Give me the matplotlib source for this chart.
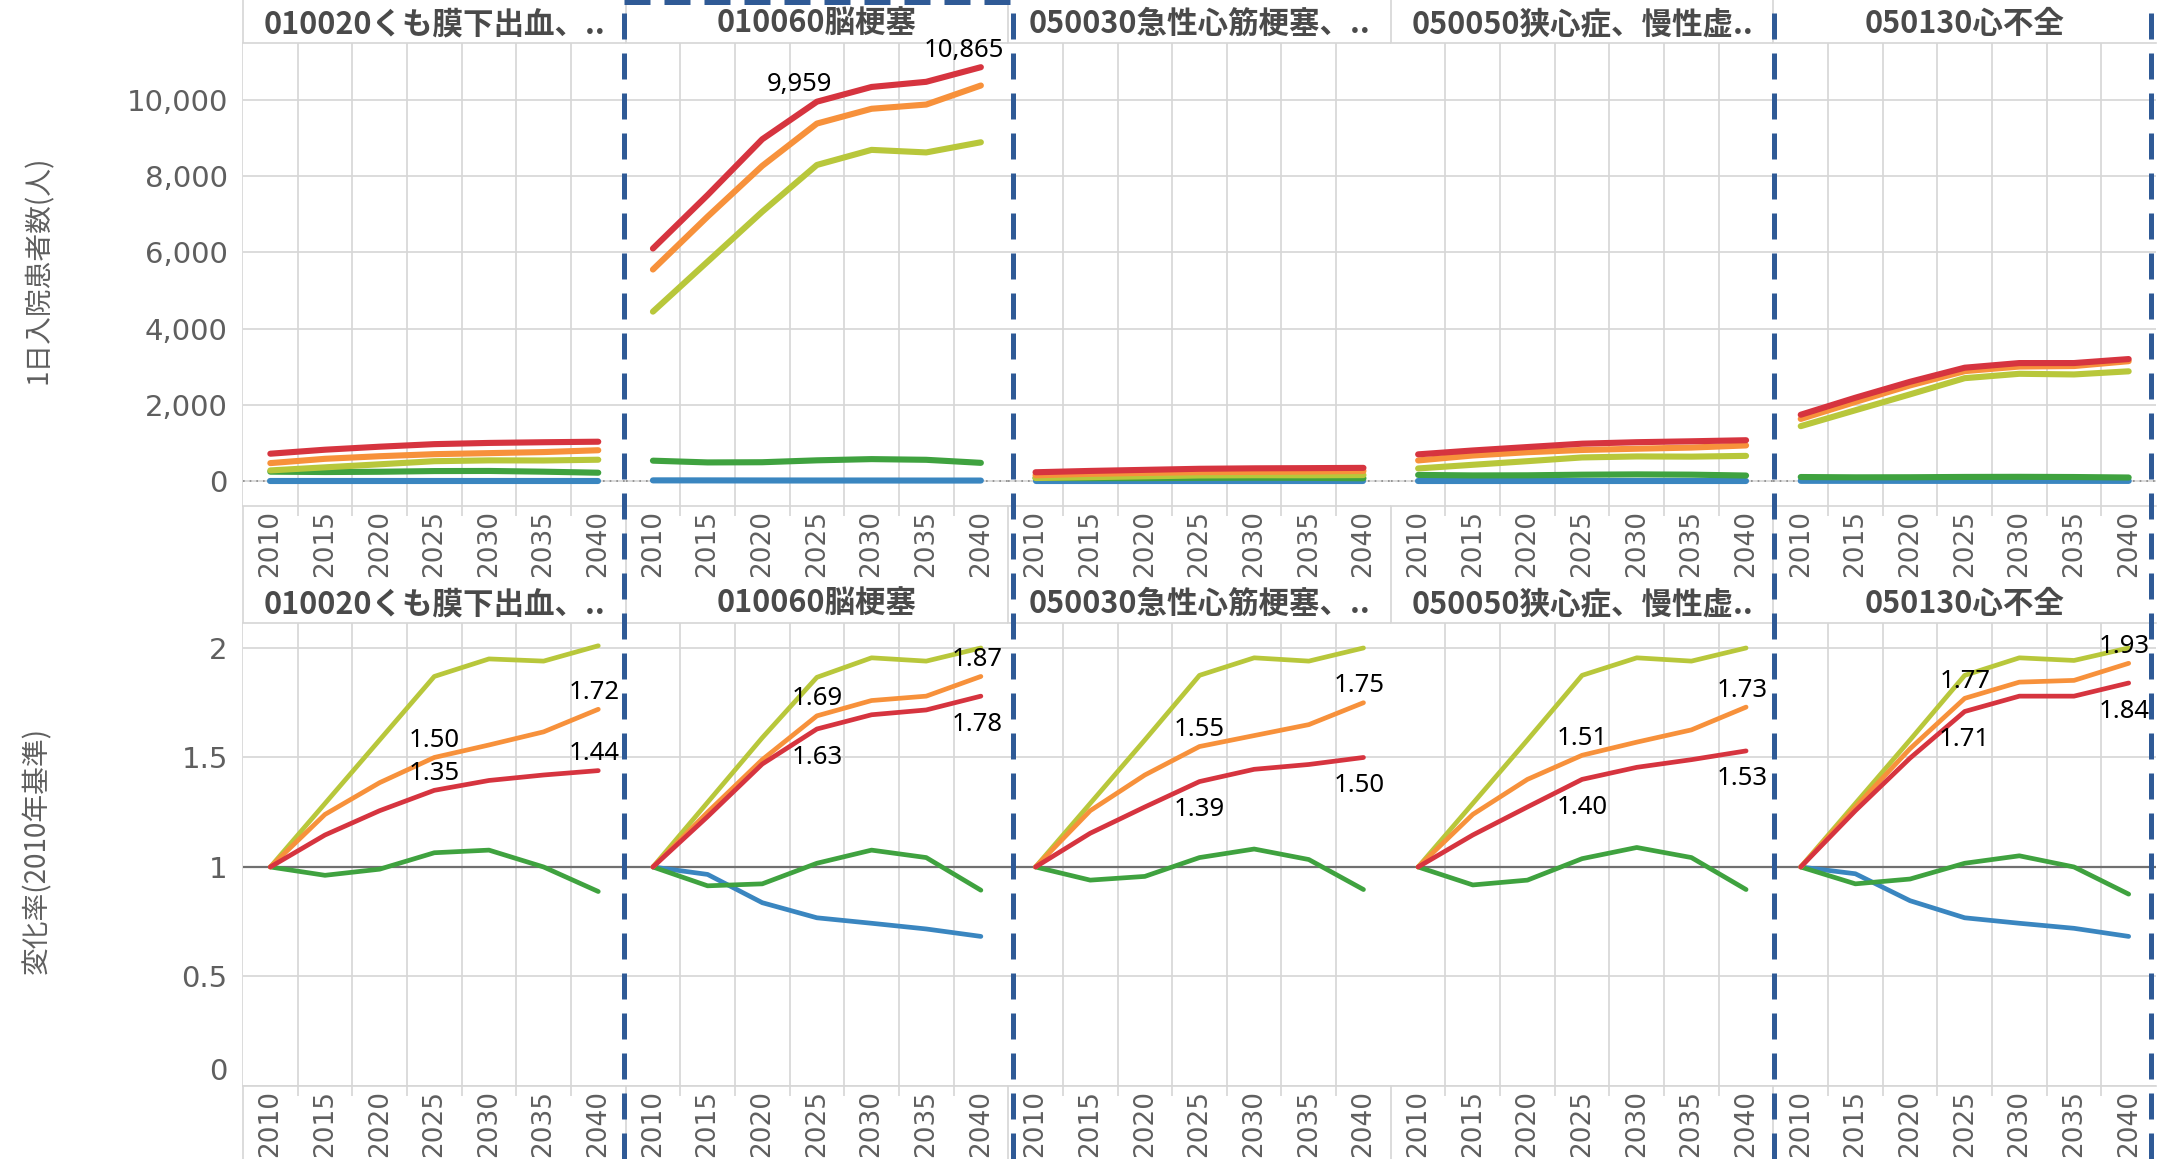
import numpy as np
import matplotlib
matplotlib.use('Agg')
import matplotlib.pyplot as plt
from matplotlib.lines import Line2D
from matplotlib.ticker import FuncFormatter

## DPC disease groups: daily inpatients (top) and change ratio vs 2010 (bottom)

years = [2010, 2015, 2020, 2025, 2030, 2035, 2040]
titles = ['010020くも膜下出血、..', '010060脳梗塞', '050030急性心筋梗塞、..',
          '050050狭心症、慢性虚..', '050130心不全']

# daily inpatients, one list per panel
blue_cnt = [[0, 0, 0, 0, 0, 0, 0],
            [17, 16, 14, 13, 13, 12, 12],
            [0, 0, 0, 0, 0, 0, 0],
            [0, 0, 0, 0, 0, 0, 0],
            [5, 5, 4, 4, 4, 4, 3]]
green_cnt = [[245, 236, 243, 261, 264, 245, 218],
             [534, 488, 493, 543, 575, 557, 477],
             [80, 75, 77, 83, 87, 83, 72],
             [160, 147, 150, 166, 174, 167, 144],
             [105, 97, 99, 107, 110, 105, 92]]
olive_cnt = [[278, 359, 439, 520, 542, 539, 559],
             [4447, 5759, 7071, 8298, 8694, 8627, 8894],
             [78, 101, 123, 146, 152, 151, 156],
             [330, 426, 521, 619, 645, 640, 660],
             [1440, 1858, 2275, 2700, 2815, 2798, 2880]]
orange_cnt = [[470, 583, 651, 705, 732, 760, 808],
              [5553, 6941, 8274, 9385, 9773, 9884, 10384],
              [150, 189, 213, 233, 240, 248, 263],
              [540, 670, 756, 815, 848, 878, 934],
              [1630, 2077, 2510, 2885, 3006, 3019, 3146]]
red_cnt = [[717, 822, 901, 968, 1000, 1018, 1032],
           [6104, 7508, 8973, 9959, 10346, 10481, 10865],
           [230, 265, 293, 321, 333, 338, 345],
           [700, 802, 892, 980, 1019, 1043, 1071],
           [1740, 2187, 2605, 2975, 3097, 3097, 3202]]

# change ratio (2010 = 1), None = no line
blue_rt = [None,
           [1, 0.966, 0.837, 0.768, 0.743, 0.717, 0.683],
           None,
           None,
           [1, 0.969, 0.846, 0.768, 0.743, 0.72, 0.683]]
green_rt = [[1, 0.962, 0.99, 1.065, 1.077, 1.0, 0.888],
            [1, 0.914, 0.923, 1.017, 1.077, 1.043, 0.894],
            [1, 0.94, 0.957, 1.043, 1.082, 1.034, 0.897],
            [1, 0.918, 0.94, 1.038, 1.089, 1.043, 0.897],
            [1, 0.923, 0.945, 1.017, 1.051, 1.0, 0.876]]
olive_rt = [[1, 1.29, 1.58, 1.87, 1.95, 1.94, 2.01],
            [1, 1.295, 1.59, 1.866, 1.955, 1.94, 2.0],
            [1, 1.29, 1.58, 1.875, 1.955, 1.94, 2.0],
            [1, 1.29, 1.58, 1.875, 1.955, 1.94, 2.0],
            [1, 1.29, 1.58, 1.875, 1.955, 1.943, 2.0]]
orange_rt = [[1, 1.24, 1.385, 1.50, 1.557, 1.617, 1.72],
             [1, 1.25, 1.49, 1.69, 1.76, 1.78, 1.87],
             [1, 1.257, 1.42, 1.55, 1.60, 1.65, 1.75],
             [1, 1.24, 1.40, 1.51, 1.57, 1.626, 1.73],
             [1, 1.274, 1.54, 1.77, 1.844, 1.852, 1.93]]
red_rt = [[1, 1.146, 1.257, 1.35, 1.395, 1.42, 1.44],
          [1, 1.23, 1.47, 1.63, 1.695, 1.717, 1.78],
          [1, 1.154, 1.274, 1.39, 1.446, 1.468, 1.50],
          [1, 1.146, 1.274, 1.40, 1.455, 1.49, 1.53],
          [1, 1.257, 1.497, 1.71, 1.78, 1.78, 1.84]]

# which years get a value label
label_years = [2025, 2040]
count_label_panels = [1]

colors = {'blue': '#3a86c0', 'green': '#3fa23f', 'olive': '#b8c73b',
          'orange': '#f7913b', 'red': '#d6343f'}
grid_c = '#d6d6d6'
tick_c = '#5f5f5f'
cjk = ['Noto Sans CJK JP', 'DejaVu Sans']

W, H = 2157, 1159
def fx(px):
    return px / W
def fy(py):
    return 1 - py / H

fig = plt.figure(figsize=(W / 100, H / 100), dpi=100)
fig.patch.set_facecolor('white')

pw = 382.6
col_left = [243 + i * pw for i in range(5)]
rows = [(43, 506), (623, 1086)]
xs = np.arange(len(years))

for r, (ytop, ybot) in enumerate(rows):
    for c in range(5):
        ax = fig.add_axes([fx(col_left[c]), fy(ybot), pw / W, (ybot - ytop) / H])
        ax.set_xlim(-0.5, len(years) - 0.5)
        if r == 0:
            ax.set_ylim(-656, 11500)
            ax.set_yticks([0, 2000, 4000, 6000, 8000, 10000])
            ax.yaxis.set_major_formatter(FuncFormatter(lambda v, p: f'{int(v):,}'))
            ax.axhline(0, color='#8a8a8a', lw=1.2, ls=(0, (1, 3)), zorder=1)
            series = [(blue_cnt, 'blue'), (green_cnt, 'green'), (olive_cnt, 'olive'),
                      (orange_cnt, 'orange'), (red_cnt, 'red')]
            lw = 4.4
        else:
            ax.set_ylim(0, 2.114)
            ax.set_yticks([0, 0.5, 1, 1.5, 2])
            ax.yaxis.set_major_formatter(FuncFormatter(lambda v, p: f'{v:g}'))
            ax.axhline(1, color='#707070', lw=1.6, zorder=1)
            series = [(blue_rt, 'blue'), (green_rt, 'green'), (olive_rt, 'olive'),
                      (orange_rt, 'orange'), (red_rt, 'red')]
            lw = 3.4

        for data, key in series:
            vals = data[c]
            if vals is None:
                continue
            ax.plot(xs, vals, color=colors[key], lw=lw, solid_capstyle='round',
                    solid_joinstyle='round', zorder=3)

        # value labels
        if r == 0 and c in count_label_panels:
            for yr in label_years:
                i = years.index(yr)
                ax.annotate(f'{red_cnt[c][i]:,}', (xs[i], red_cnt[c][i]),
                            xytext=(-17, 17), textcoords='offset pixels',
                            ha='center', va='center', fontsize=18.5,
                            family='Noto Sans', color='black', zorder=5,
                            annotation_clip=False)
        if r == 1:
            for yr in label_years:
                i = years.index(yr)
                dx = -4 if yr == 2040 else 0
                ax.annotate(f'{orange_rt[c][i]:.2f}', (xs[i], orange_rt[c][i]),
                            xytext=(dx, 17), textcoords='offset pixels',
                            ha='center', va='center', fontsize=18.5,
                            family='Noto Sans', color='black', zorder=5,
                            annotation_clip=False)
                dy = 17 if c == 0 else -28
                ax.annotate(f'{red_rt[c][i]:.2f}', (xs[i], red_rt[c][i]),
                            xytext=(dx, dy), textcoords='offset pixels',
                            ha='center', va='center', fontsize=18.5,
                            family='Noto Sans', color='black', zorder=5,
                            annotation_clip=False)

        # axes styling
        ax.set_xticks(xs)
        ax.set_xticklabels([str(y) for y in years], rotation=90, fontsize=19,
                           color=tick_c, family='DejaVu Sans')
        ax.set_xticks(xs[:-1] + 0.5, minor=True)
        ax.tick_params(axis='x', which='major', length=0, pad=3)
        ax.tick_params(axis='x', which='minor', length=7, color=grid_c, width=1.2)
        ax.grid(axis='x', which='minor', color=grid_c, lw=1.2, zorder=0)
        ax.grid(axis='y', which='major', color=grid_c, lw=1.2, zorder=0)
        ax.tick_params(axis='y', length=0, pad=11, labelsize=21, labelcolor=tick_c)
        if c > 0:
            ax.tick_params(axis='y', labelleft=False)
        for s in ['left', 'right']:
            ax.spines[s].set_visible(False)
        for s in ['top', 'bottom']:
            ax.spines[s].set_color(grid_c)
            ax.spines[s].set_linewidth(1.2)
        ax.set_axisbelow(True)

        if r == 1 and c == 0:
            fig.canvas.draw()
            for lab in ax.get_yticklabels():
                if lab.get_text() == '0':
                    lab.set_va('bottom')

        # panel title
        ax.text(0.5, 1 + 19 / (ybot - ytop), titles[c], transform=ax.transAxes,
                ha='center', va='center', fontsize=22, fontweight='bold',
                color='#4a4a4a', family=cjk)

# panel separators
for x in col_left:
    fig.add_artist(Line2D([fx(x), fx(x)], [0, 1], transform=fig.transFigure,
                          color=grid_c, lw=1.2, zorder=0))

# y axis titles
fig.text(fx(39), fy(270), '1日入院患者数(人)', rotation=90, ha='center', va='center',
         fontsize=20, color=tick_c, family=cjk)
fig.text(fx(37), fy(850), '変化率(2010年基準)', rotation=90, ha='center', va='center',
         fontsize=20, color=tick_c, family=cjk)

# dashed highlight boxes
dash_c = '#2f5a96'
dash_ls = (0, (5.2, 2.8))
for x in [624, 1013, 1774, 2151]:
    fig.add_artist(Line2D([fx(x), fx(x)], [0, 1], transform=fig.transFigure,
                          color=dash_c, lw=3.6, ls=dash_ls, zorder=20))
fig.add_artist(Line2D([fx(624), fx(1013)], [fy(2), fy(2)], transform=fig.transFigure,
                      color=dash_c, lw=3.6, ls=dash_ls, zorder=20))

fig.savefig('out.png', dpi=100, facecolor='white')
